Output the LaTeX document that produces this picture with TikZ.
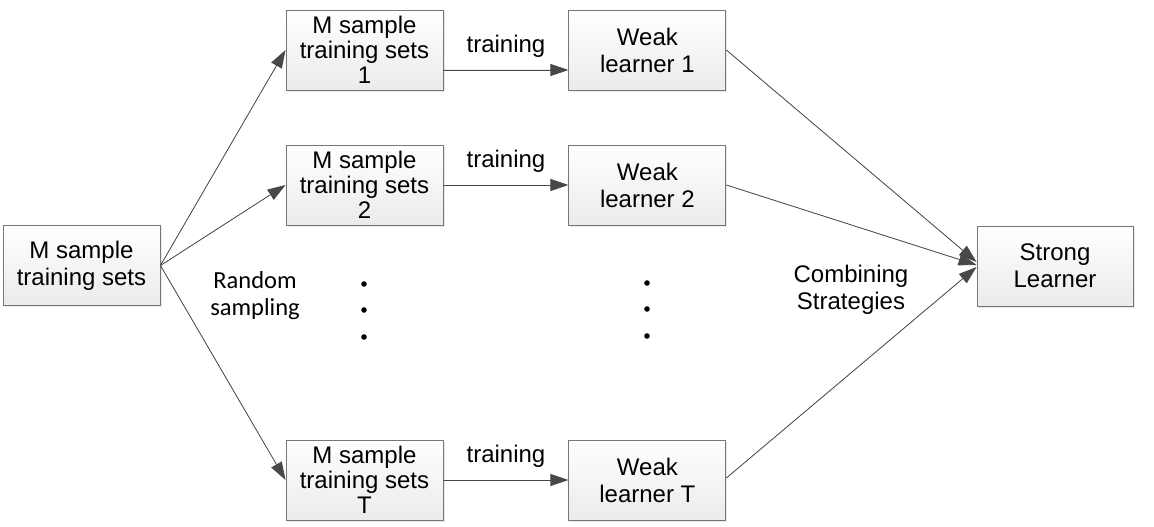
\documentclass[tikz,border=0pt]{standalone}
\usepackage{fontspec}
\setmainfont{Liberation Sans}
\newfontfamily\labelfont{Carlito}
\usetikzlibrary{positioning,shadows,arrows.meta}
\definecolor{boxedge}{RGB}{118,118,118}
\definecolor{linegray}{RGB}{72,72,72}

\begin{document}
\begin{tikzpicture}[x=1pt, y=-1pt,
    setbox/.style={rectangle, draw=boxedge, line width=0.9pt, top color=white, bottom color=gray!16,
                   minimum width=157pt, minimum height=80pt, inner sep=0pt, align=center,
                   drop shadow={shadow xshift=1.5pt, shadow yshift=-1.5pt, fill=gray!35},
                   font=\fontsize{24}{25}\selectfont},
    learner/.style={setbox, font=\fontsize{24}{27}\selectfont},
    arrow/.style={-{Triangle[length=18pt, width=12pt]}, line width=0.8pt, draw=linegray, fill=linegray},
    tag/.style={font=\fontsize{24}{27}\selectfont, align=center, inner sep=0pt}
]
\useasboundingbox (0,0) rectangle (1154,527);

% sample sets
\node[learner] (src) at (81.5,265.5) {M sample\\training sets};
\node[setbox] (s1) at (364.5,50) {M sample\\training sets\\1};
\node[setbox] (s2) at (364.5,185) {M sample\\training sets\\2};
\node[setbox] (sT) at (364.5,480) {M sample\\training sets\\T};

% weak learners
\node[learner, right=125pt of s1] (w1) {Weak\\learner 1};
\node[learner, right=125pt of s2] (w2) {Weak\\learner 2};
\node[learner, right=125pt of sT] (wT) {Weak\\learner T};

\node[learner, minimum width=156pt] (strong) at (1055,266) {Strong\\Learner};

\draw[arrow] (src.east) -- (s1.west);
\draw[arrow] (src.east) -- (s2.west);
\draw[arrow] (src.east) -- (sT.west);

\draw[arrow] ([yshift=-20pt]s1.east) -- node[tag, above=12pt] {training} ([yshift=-20pt]w1.west);
\draw[arrow] (s2.east) -- node[tag, above=12pt] {training} (w2.west);
\draw[arrow] (sT.east) -- node[tag, above=12pt] {training} (wT.west);

\draw[arrow] (w1.east) -- ([yshift=4pt]strong.west);
\draw[arrow] (w2.east) -- ([yshift=1pt]strong.west);
\draw[arrow] ([yshift=2pt]wT.east) -- ([yshift=-1pt]strong.west);

\node[tag, font=\labelfont\fontsize{24.5}{27}\selectfont] (rand) at (255,296) {Random\\sampling};
\node[tag] (comb) at (851,290) {Combining\\Strategies};

% dots
\foreach \y in {284,310,337} {
  \fill (364,\y) circle (2.8pt);
  \fill (647,\y-1) circle (2.8pt);
}
\end{tikzpicture}
\end{document}
